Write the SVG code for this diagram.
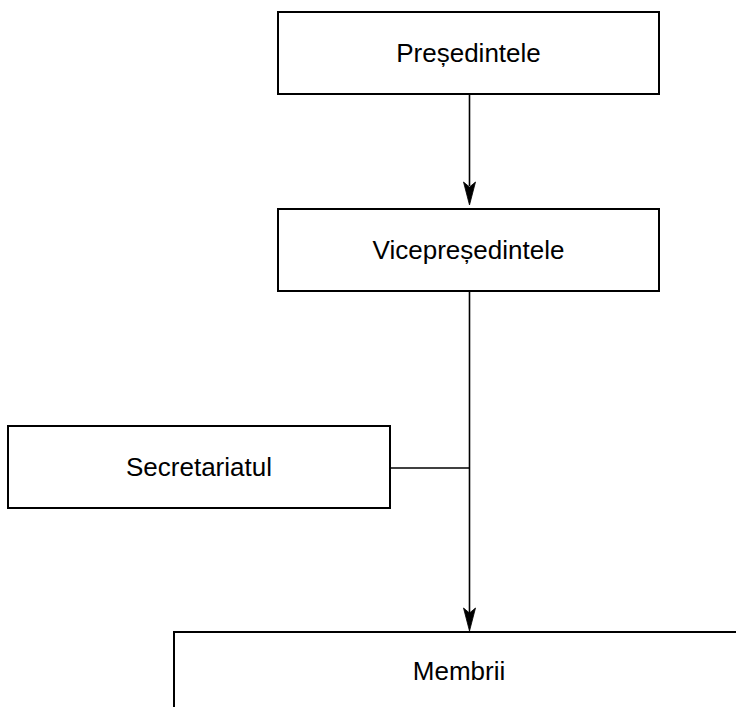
<svg xmlns="http://www.w3.org/2000/svg" width="736" height="707" viewBox="0 0 736 707">
<style>
.box{fill:#fff;stroke:#000;stroke-width:2}
.lbl{font-family:"Liberation Sans",Arial,sans-serif;font-size:26px;fill:#000;text-anchor:middle}
.edge{fill:none;stroke:#000;stroke-width:1.6}
.head{fill:#000;stroke:#000;stroke-width:0.8;stroke-linejoin:miter}
</style>
<rect width="736" height="707" fill="#fff"/>
<g id="connectors">
<line class="edge" x1="469.5" y1="94" x2="469.5" y2="186"/>
<path class="head" d="M469.5,205 L463.5,182 L469.5,187 L475.5,182 Z"/>
<line class="edge" x1="469.5" y1="291" x2="469.5" y2="613"/>
<path class="head" d="M469.5,631 L463.5,608 L469.5,613 L475.5,608 Z"/>
<line class="edge" x1="390" y1="468" x2="469.5" y2="468"/>
</g>
<g id="presedintele">
<rect class="box" x="278" y="12" width="381" height="82"/>
<text class="lbl" x="468.5" y="62">Președintele</text>
</g>
<g id="vicepresedintele">
<rect class="box" x="278" y="209" width="381" height="82"/>
<text class="lbl" x="468.5" y="259">Vicepreședintele</text>
</g>
<g id="secretariatul">
<rect class="box" x="8" y="426" width="382" height="82"/>
<text class="lbl" x="199" y="476">Secretariatul</text>
</g>
<g id="membrii">
<rect class="box" x="174" y="632" width="570" height="82"/>
<text class="lbl" x="459" y="680">Membrii</text>
</g>
</svg>
